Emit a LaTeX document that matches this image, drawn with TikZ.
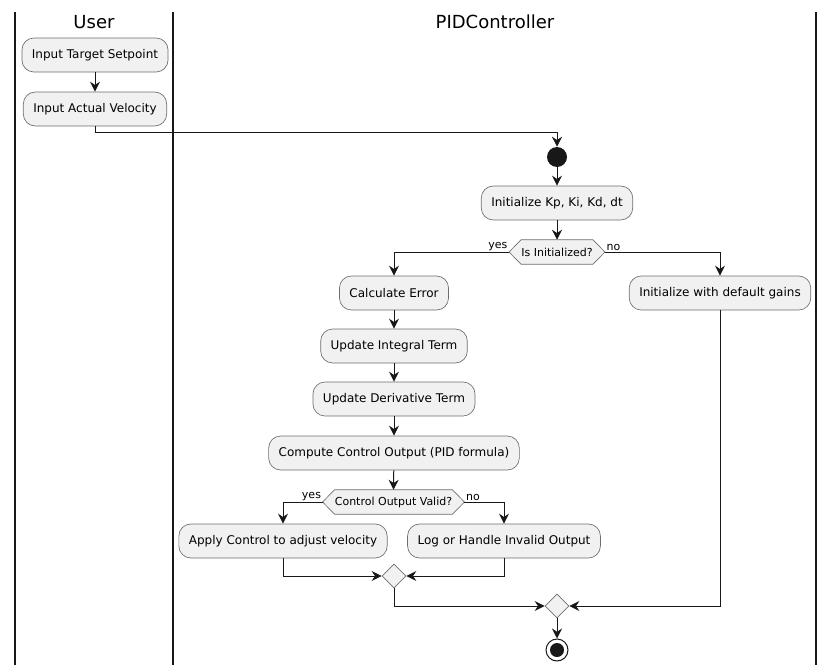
\documentclass[tikz,border=0pt]{standalone}
\usepackage{fontspec}
\setmainfont{DejaVu Sans}
\usetikzlibrary{shapes.geometric,arrows.meta,backgrounds}
\definecolor{boxfill}{HTML}{F1F1F1}
\definecolor{boxline}{HTML}{6E6E6E}
\definecolor{ink}{HTML}{181818}
\begin{document}
\begin{tikzpicture}[x=0.75pt,y=-0.75pt,
 act/.style={draw=boxline, fill=boxfill, rounded corners=9pt, minimum height=25.5pt, inner xsep=7.5pt, font=\fontsize{9}{11}\selectfont, line width=0.5pt},
 arr/.style={draw=ink, line width=0.75pt, -{Stealth[length=7.5pt,width=7.5pt,inset=2.5pt]}},
 lane/.style={draw=ink, line width=1.5pt},
 merge/.style={diamond, draw=boxline, fill=boxfill, inner sep=0pt, minimum size=18pt, line width=0.5pt},
 dectext/.style={font=\fontsize{8.25}{10}\selectfont, minimum height=18pt, inner xsep=0pt, inner ysep=0pt},
 hex/.style={draw=boxline, fill=boxfill, line width=0.5pt},
 lbl/.style={font=\fontsize{8.25}{10}\selectfont, inner sep=1pt},
 title/.style={font=\fontsize{13.5}{16}\selectfont}
]
\useasboundingbox (0,0) rectangle (835,671);
% lanes
\draw[lane] (15,12) -- (15,665);
\draw[lane] (173,12) -- (173,665);
\draw[lane] (816,12) -- (816,665);
\node[title] (tuser) at (94,22) {User};
\node[title] (tpid) at (495,22) {PIDController};
% nodes
\node[act] (n1) at (95,55) {Input Target Setpoint};
\node[act] (n2) at (95,109) {Input Actual Velocity};
\node[circle, fill=ink, minimum size=15pt, inner sep=0pt] (start) at (557,157) {};
\node[act] (init) at (557,203) {Initialize Kp, Ki, Kd, dt};
\node[dectext] (d1) at (557,252) {Is Initialized?};
\node[act] (calc) at (394,293) {Calculate Error};
\node[act] (integ) at (394,346) {Update Integral Term};
\node[act] (deriv) at (394,399) {Update Derivative Term};
\node[act] (comp) at (394,453) {Compute Control Output (PID formula)};
\node[dectext] (d2) at (393.5,502) {Control Output Valid?};
\node[act] (apply) at (283,541) {Apply Control to adjust velocity};
\node[act] (log) at (504,541) {Log or Handle Invalid Output};
\node[act] (idg) at (720,293) {Initialize with default gains};
\node[merge] (m1) at (394,576) {};
\node[merge] (m2) at (557,606) {};
\node[circle, draw=ink, fill=white, line width=0.75pt, minimum size=16.5pt, inner sep=0pt] (endn) at (557,650) {};
\fill[ink] (endn.center) circle (5.25pt);
% hexagons
\coordinate (d1l) at ([xshift=-9pt]d1.west);
\coordinate (d1r) at ([xshift=9pt]d1.east);
\coordinate (d2l) at ([xshift=-9pt]d2.west);
\coordinate (d2r) at ([xshift=9pt]d2.east);
\begin{scope}[on background layer]
\draw[hex] (d1l) -- (d1.north west) -- (d1.north east) -- (d1r) -- (d1.south east) -- (d1.south west) -- cycle;
\draw[hex] (d2l) -- (d2.north west) -- (d2.north east) -- (d2r) -- (d2.south east) -- (d2.south west) -- cycle;
\end{scope}
\node[lbl, anchor=south east] (y1) at (d1l) {yes};
\node[lbl, anchor=south west] (no1) at (d1r) {no};
\node[lbl, anchor=south east] (y2) at (d2l) {yes};
\node[lbl, anchor=south west] (no2) at (d2r) {no};
% connectors
\draw[arr] (n1) -- (n2);
\draw[arr] (n2.south) -- ++(0,6) -| (start);
\draw[arr] (start) -- (init);
\draw[arr] (init) -- (d1.north);
\draw[arr] (d1l) -| (calc);
\draw[arr] (d1r) -| (idg);
\draw[arr] (calc) -- (integ);
\draw[arr] (integ) -- (deriv);
\draw[arr] (deriv) -- (comp);
\draw[arr] (comp) -- (d2.north);
\draw[arr] (d2l) -| (apply);
\draw[arr] (d2r) -| (log);
\draw[arr] (apply) |- (m1);
\draw[arr] (log) |- (m1);
\draw[arr] (m1) |- (m2);
\draw[arr] (idg) |- (m2);
\draw[arr] (m2) -- (endn);
\end{tikzpicture}
\end{document}
